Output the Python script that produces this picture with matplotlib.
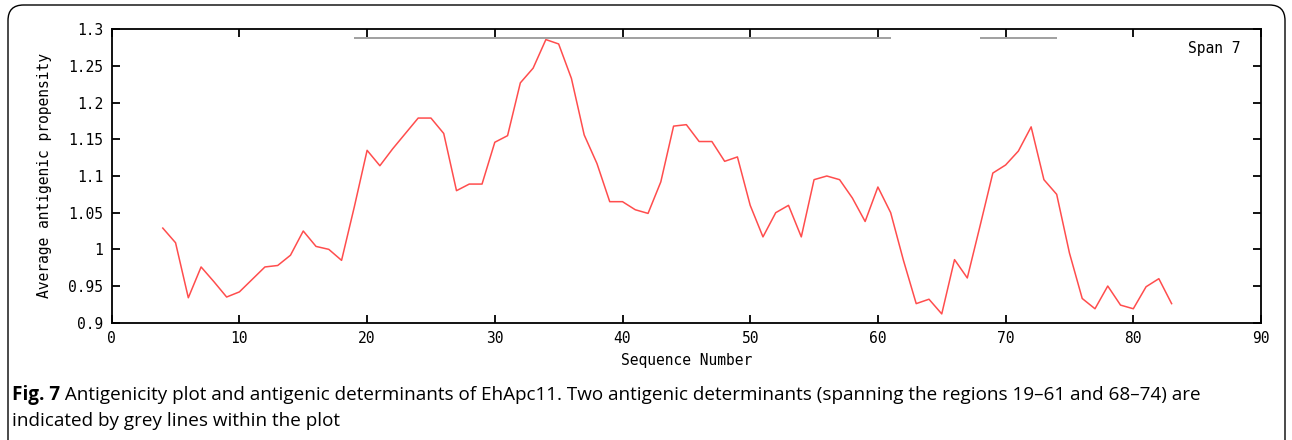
import matplotlib
matplotlib.use('Agg')
import matplotlib.pyplot as plt
import matplotlib.ticker as ticker
from matplotlib.patches import FancyBboxPatch

# residue positions (window centre) and average antigenic propensity, span 7
seq_pos = list(range(4, 84))
propensity = [1.029, 1.009, 0.934, 0.976, 0.956, 0.935, 0.942, 0.959, 0.976, 0.978,
              0.992, 1.025, 1.004, 1.000, 0.985, 1.058, 1.135, 1.114, 1.137, 1.158,
              1.179, 1.179, 1.158, 1.080, 1.089, 1.089, 1.146, 1.155, 1.227, 1.247,
              1.286, 1.280, 1.233, 1.156, 1.117, 1.065, 1.065, 1.054, 1.049, 1.092,
              1.168, 1.170, 1.147, 1.147, 1.120, 1.126, 1.060, 1.017, 1.050, 1.060,
              1.017, 1.095, 1.100, 1.095, 1.070, 1.038, 1.085, 1.050, 0.985, 0.926,
              0.932, 0.912, 0.986, 0.961, 1.032, 1.104, 1.115, 1.134, 1.167, 1.095,
              1.075, 0.995, 0.933, 0.919, 0.950, 0.924, 0.919, 0.949, 0.960, 0.926]

# antigenic determinants (start, end)
determinants = [(19, 61), (68, 74)]
det_level = 1.2886

caption_bold = 'Fig. 7'
caption_rest = (' Antigenicity plot and antigenic determinants of EhApc11. Two antigenic determinants '
                '(spanning the regions 19\u201361 and 68\u201374) are')
caption_line2 = 'indicated by grey lines within the plot'

mono = 'DejaVu Sans Mono'
fs = 10.5

fig = plt.figure(figsize=(12.92, 4.40), dpi=100)

# rounded frame around the figure panel
frame = FancyBboxPatch((8 / 1292, -0.05), 1277 / 1292, 1.0 - 5 / 440 + 0.05,
                       boxstyle='round,pad=0,rounding_size=0.012',
                       transform=fig.transFigure, fill=False, ec='black', lw=1.0,
                       mutation_aspect=1292 / 440)
fig.patches.append(frame)

ax = fig.add_axes([111.7 / 1292, 1 - 322.7 / 440, (1261 - 111.7) / 1292, (322.7 - 29.3) / 440])
ax.plot(seq_pos, propensity, color='#ff4d4d', lw=1.1)
for s, e in determinants:
    ax.plot([s, e], [det_level, det_level], color='#a0a0a0', lw=1.4, solid_capstyle='butt')

ax.set_xlim(0, 90)
ax.set_ylim(0.9, 1.3)
ax.xaxis.set_major_locator(ticker.MultipleLocator(10))
ax.yaxis.set_major_locator(ticker.MultipleLocator(0.05))
ax.yaxis.set_major_formatter(ticker.FuncFormatter(lambda v, p: '%g' % round(v, 2)))
ax.tick_params(direction='in', length=6, width=1.3, top=True, right=True,
               labelsize=fs, pad=6)
for lab in ax.get_xticklabels() + ax.get_yticklabels():
    lab.set_family(mono)
for sp in ax.spines.values():
    sp.set_linewidth(1.3)

ax.set_xlabel('Sequence Number', family=mono, fontsize=fs, labelpad=5)
ax.set_ylabel('Average antigenic propensity', family=mono, fontsize=fs, labelpad=12)
ax.text(0.982, 0.935, 'Span 7', transform=ax.transAxes, ha='right', va='center',
        family=mono, fontsize=fs)

# caption
cap_font = ['Open Sans', 'DejaVu Sans']
cap_fs = 13.6
t1 = fig.text(12 / 1292, 1 - 395 / 440, caption_bold, fontsize=cap_fs, weight='bold',
              family=cap_font, va='center', ha='left')
fig.canvas.draw()
bb = t1.get_window_extent(fig.canvas.get_renderer())
fig.text(bb.x1 / 1292, 1 - 395 / 440, caption_rest, fontsize=cap_fs, family=cap_font,
         va='center', ha='left')
fig.text(12 / 1292, 1 - 421 / 440, caption_line2, fontsize=cap_fs, family=cap_font,
         va='center', ha='left')

fig.savefig('out.png', dpi=100)
